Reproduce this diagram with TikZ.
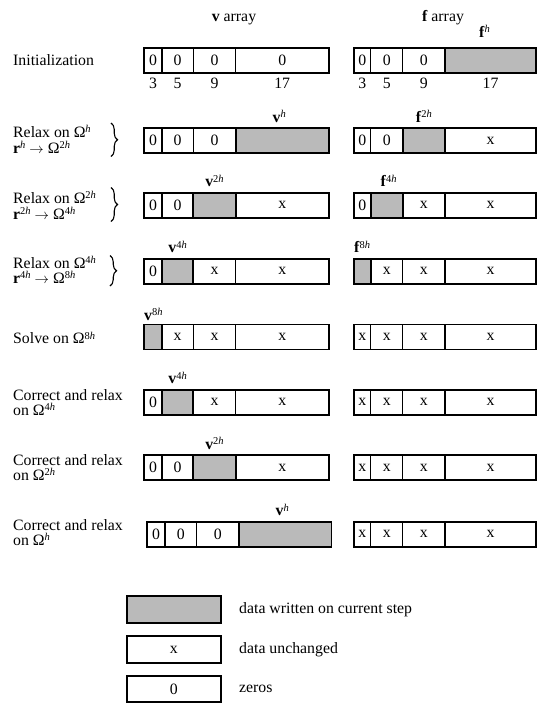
\documentclass[tikz,border=0pt]{standalone}
\usepackage{fontspec}
\setmainfont{Liberation Serif}
\usetikzlibrary{decorations.pathreplacing}
\definecolor{shade}{gray}{0.73}
\newcommand\hx{\textit{h}}
\newcommand\sps[1]{\raisebox{4.8pt}{\fontsize{10.5}{10.5}\selectfont #1}}
\newcommand\Om[1]{Ω\sps{#1}}
\newcommand\vl[1]{\textbf{v}\sps{#1}}
\newcommand\fl[1]{\textbf{f}\sps{#1}}
\newcommand\rl[1]{\textbf{r}\sps{#1}}
\newcommand\tightfont{\fontsize{15.8}{15.5}\selectfont}
\def\shd{S}
\def\vx{{144,162,193.3,235.7,328.7}}
\def\vxb{{147,165,196.5,239,331.5}}
\def\fx{{354,370.7,402.7,445,536}}
\newcommand\arr[4]{%
  \foreach \t [count=\i] in {#4}{%
    \pgfmathsetmacro\xl{#2[\i-1]}%
    \pgfmathsetmacro\xr{#2[\i]}%
    \ifx\t\shd
      \node[shcell, minimum width=\xr pt-\xl pt] (#1-\i) at ({(\xl+\xr)/2},#3) {};
    \else
      \node[cell, minimum width=\xr pt-\xl pt] (#1-\i) at ({(\xl+\xr)/2},#3) {\t};
    \fi}
  \foreach \t [count=\i] in {#4}{%
    \ifx\t\shd
      \draw[outl] (#1-\i.north west) rectangle (#1-\i.south east);
    \fi}
  \draw[outl] (#1-1.north west) rectangle (#1-4.south east);
}
\begin{document}
\begin{tikzpicture}[x=1pt,y=-1pt,
  every node/.style={font=\tightfont},
  cell/.style={draw, line width=1.1pt, inner sep=0pt, outer sep=0pt, minimum height=25pt},
  shcell/.style={cell, fill=shade},
  outl/.style={line width=1.8pt},
  lab/.style={anchor=base, inner sep=0pt},
  txt/.style={anchor=west, align=left, inner sep=0pt},
  brc/.style={decorate, decoration={brace, amplitude=6.5pt}, line width=1.1pt},
  lcell/.style={cell, line width=1.8pt, minimum width=94pt, minimum height=26.5pt}
]
\useasboundingbox (0,0) rectangle (552,712);

% headers
\node[lab] (hv) at (234,21) {\textbf{v} array};
\node[lab] (hf) at (443,21) {\textbf{f} array};

% row 1
\arr{v1}{\vx}{60.2}{0,0,0,0}
\arr{f1}{\fx}{60.2}{0,0,0,S}
\foreach \n/\c in {3/1,5/2,9/3,17/4}{
  \node[lab, yshift=-15.8pt] (nv\c) at (v1-\c.south) {\n};
  \node[lab, yshift=-15.8pt] (nf\c) at (f1-\c.south) {\n};
}
\node[lab, yshift=10pt, xshift=-6pt] (l1f) at (f1-4.north) {\fl{\hx}};
\node[txt] (t1) at (13,60.5) {Initialization};

% row 2
\arr{v2}{\vx}{140.5}{0,0,0,S}
\arr{f2}{\fx}{140.5}{0,0,S,x}
\node[lab, yshift=6pt, xshift=-3pt] (l2v) at (v2-4.north) {\vl{\hx}};
\node[lab, yshift=6pt] (l2f) at (f2-3.north) {\fl{2\hx}};
\node[txt] (t2) at (13,139.5) {Relax on \Om{\hx}\\\rl{\hx} $\rightarrow$ \Om{2\hx}};
\draw[brc] (111,123) -- (111,156.5);

% row 3
\arr{v3}{\vx}{205.3}{0,0,S,x}
\arr{f3}{\fx}{205.3}{0,S,x,x}
\node[lab, yshift=6pt] (l3v) at (v3-3.north) {\vl{2\hx}};
\node[lab, yshift=6pt, xshift=2pt] (l3f) at (f3-2.north) {\fl{4\hx}};
\node[txt] (t3) at (13,205.5) {Relax on \Om{2\hx}\\\rl{2\hx} $\rightarrow$ \Om{4\hx}};
\draw[brc] (111,187.5) -- (111,221.5);

% row 4
\arr{v4}{\vx}{271.3}{0,S,x,x}
\arr{f4}{\fx}{271.3}{S,x,x,x}
\node[lab, yshift=6pt] (l4v) at (v4-2.north) {\vl{4\hx}};
\node[lab, anchor=base west, yshift=6pt] (l4f) at (f4-1.north west) {\fl{8\hx}};
\node[txt] (t4) at (13,270) {Relax on \Om{4\hx}\\\rl{4\hx} $\rightarrow$ \Om{8\hx}};
\draw[brc] (110,255.5) -- (110,286);

% row 5
\arr{v5}{\vx}{337}{S,x,x,x}
\arr{f5}{\fx}{337}{x,x,x,x}
\node[lab, anchor=base west, yshift=4pt] (l5v) at (v5-1.north west) {\vl{8\hx}};
\node[txt] (t5) at (13,338) {Solve on \Om{8\hx}};

% row 6
\arr{v6}{\vx}{402.3}{0,S,x,x}
\arr{f6}{\fx}{402.3}{x,x,x,x}
\node[lab, yshift=6pt] (l6v) at (v6-2.north) {\vl{4\hx}};
\node[txt] (t6) at (13,402.5) {Correct and relax\\on \Om{4\hx}};

% row 7
\arr{v7}{\vx}{467.7}{0,0,S,x}
\arr{f7}{\fx}{467.7}{x,x,x,x}
\node[lab, yshift=6pt] (l7v) at (v7-3.north) {\vl{2\hx}};
\node[txt] (t7) at (13,467.5) {Correct and relax\\on \Om{2\hx}};

% row 8
\arr{v8}{\vxb}{534.3}{0,0,0,S}
\arr{f8}{\fx}{534.3}{x,x,x,x}
\node[lab, yshift=6pt, xshift=-3pt] (l8v) at (v8-4.north) {\vl{\hx}};
\node[txt] (t8) at (13,532.5) {Correct and relax\\on \Om{\hx}};

% legend
\node[lcell, fill=shade] (L1) at (173.7,609.5) {};
\node[lcell] (L2) at (173.7,649.5) {x};
\node[lcell] (L3) at (173.7,689) {0};
\node[txt] (T1) at (239,609.5) {data written on current step};
\node[txt] (T2) at (239,649.5) {data unchanged};
\node[txt] (T3) at (239,689) {zeros};
\end{tikzpicture}
\end{document}
